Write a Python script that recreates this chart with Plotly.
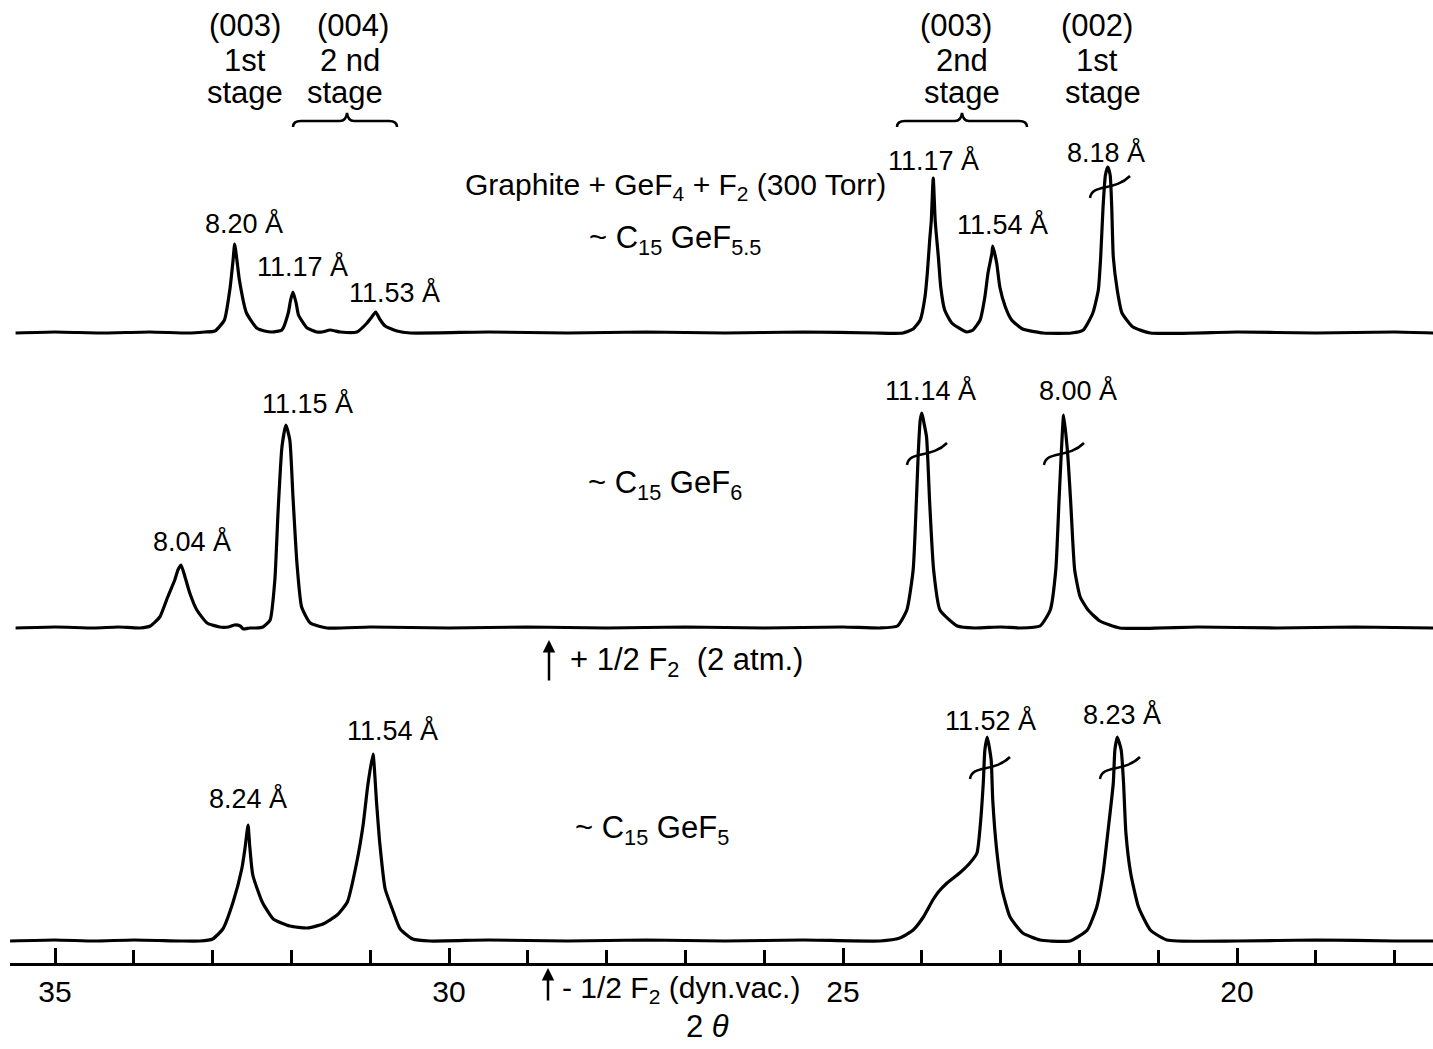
import plotly.graph_objects as go

# ---------------- data (2-theta in degrees, intensity in arbitrary units above each baseline) -------------
top_2theta = [35.50, 35.00, 34.40, 33.80, 33.30, 33.10, 32.97, 32.85, 32.78, 32.74, 32.72, 32.69, 32.66, 32.57,
              32.44, 32.34, 32.25, 32.12, 32.04, 32.01, 31.98, 31.94, 31.91, 31.80, 31.68, 31.61, 31.51, 31.38,
              31.17, 31.04, 30.98, 30.93, 30.88, 30.81, 30.66, 30.49, 29.50, 28.50, 27.50, 26.50, 25.50, 24.60,
              24.24, 24.11, 24.02, 23.96, 23.93, 23.90, 23.88, 23.855, 23.83, 23.79, 23.76, 23.71, 23.62, 23.43,
              23.35, 23.26, 23.20, 23.16, 23.11, 23.10, 23.05, 23.01, 22.94, 22.86, 22.72, 22.46, 22.10, 21.95,
              21.83, 21.76, 21.73, 21.70, 21.67, 21.64, 21.61, 21.59, 21.57, 21.52, 21.46, 21.32, 21.10, 20.00,
              19.00, 18.00, 17.51]
top_intensity = [0, 1, 0, 1, 0, 1, 2, 13, 44, 73, 89, 72, 53, 20,
                 5, 2, 1, 3, 20, 33, 41, 30, 18, 5, 1, 1, 3, 1,
                 1, 10, 16, 21, 14, 7, 2, 0, 1, 0, 1, 0, 1, 0,
                 0, 4, 13, 36, 60, 93, 112, 155, 112, 76, 46, 23, 10, 1,
                 3, 13, 36, 60, 80, 87, 70, 46, 26, 13, 4, 0, 0, 3,
                 20, 43, 76, 126, 158, 166, 158, 126, 76, 43, 20, 6, 0, 1,
                 0, 1, 0]

mid_2theta = [35.50, 35.00, 34.50, 34.20, 33.92, 33.79, 33.67, 33.57, 33.48, 33.44, 33.40, 33.35, 33.29, 33.20,
              33.07, 32.91, 32.80, 32.72, 32.65, 32.61, 32.53, 32.45, 32.36, 32.27, 32.21, 32.17, 32.12, 32.07,
              32.02, 31.98, 31.93, 31.87, 31.76, 31.55, 31.00, 30.00, 29.00, 28.00, 27.00, 26.00, 25.00, 24.53,
              24.31, 24.19, 24.11, 24.07, 24.045, 24.02, 24.00, 23.98, 23.94, 23.90, 23.85, 23.77, 23.55, 23.33,
              23.00, 22.75, 22.50, 22.37, 22.30, 22.26, 22.23, 22.20, 22.15, 22.11, 22.06, 21.99, 21.89, 21.74,
              21.49, 20.50, 19.50, 18.50, 17.51]
mid_intensity = [0, 1, 0, 1, 0, 2, 11, 31, 48, 58, 63, 51, 35, 18,
                 5, 1, 1, 3, 2, -1, 0, 0, 1, 8, 48, 115, 181, 203,
                 188, 131, 65, 21, 5, 0, 1, 0, 1, 0, 1, 0, 1, 0,
                 2, 18, 58, 125, 175, 208, 215, 208, 191, 125, 58, 18, 2, 0,
                 1, 0, 2, 18, 58, 125, 175, 213, 175, 125, 58, 31, 18, 7,
                 0, 1, 0, 1, 0]

bot_2theta = [35.57, 35.00, 34.50, 34.00, 33.41, 33.16, 33.00, 32.87, 32.74, 32.63, 32.59, 32.55, 32.53, 32.49,
              32.37, 32.23, 32.02, 31.80, 31.60, 31.42, 31.29, 31.17, 31.09, 31.03, 30.965, 30.92, 30.88, 30.81,
              30.72, 30.62, 30.46, 30.24, 29.50, 28.50, 27.50, 26.50, 25.50, 24.53, 24.28, 24.11, 23.98, 23.86,
              23.79, 23.68, 23.52, 23.39, 23.30, 23.26, 23.22, 23.20, 23.17, 23.12, 23.10, 23.05, 22.98, 22.88,
              22.72, 22.50, 22.37, 22.12, 21.90, 21.78, 21.70, 21.64, 21.57, 21.55, 21.52, 21.47, 21.44, 21.41,
              21.35, 21.25, 21.10, 20.89, 20.00, 19.00, 18.00, 17.51]
bot_intensity = [0, 1, 0, 1, 0, 0, 2, 12, 39, 72, 92, 116, 96, 66,
                 39, 22, 15, 13, 17, 26, 39, 79, 116, 156, 187, 139, 99, 52,
                 32, 12, 2, 0, 1, 0, 1, 0, 1, 0, 3, 11, 24, 41,
                 49, 58, 68, 78, 88, 114, 158, 191, 204, 181, 141, 91, 51, 24,
                 8, 1, 0, 0, 11, 34, 68, 108, 158, 191, 204, 191, 158, 108,
                 68, 34, 11, 1, 0, 1, 0, 0]

major_ticks = [35, 30, 25, 20]
major_labels = ["35", "30", "25", "20"]

peak_labels = ["8.20 Å", "11.17 Å", "11.53 Å", "11.17 Å", "11.54 Å", "8.18 Å",
               "11.15 Å", "8.04 Å", "11.14 Å", "8.00 Å",
               "8.24 Å", "11.54 Å", "11.52 Å", "8.23 Å"]

# ---------------- layout constants (positions / styles) ----------------
TOP_OFFSET, MID_OFFSET, BOT_OFFSET = 630, 335, 22
FONT = "Liberation Sans, Arial, sans-serif"
LW = 3.2
PLOT_H = 963  # pixel height of plotting area

fig = go.Figure()
for xs, ys, off in [(top_2theta, top_intensity, TOP_OFFSET),
                    (mid_2theta, mid_intensity, MID_OFFSET),
                    (bot_2theta, bot_intensity, BOT_OFFSET)]:
    fig.add_trace(go.Scatter(x=xs, y=[v + off for v in ys], mode="lines",
                             line=dict(color="black", width=LW, shape="spline", smoothing=0.5),
                             hoverinfo="skip", showlegend=False))

# invisible trace to activate overlay pixel axes for annotations
fig.add_trace(go.Scatter(x=[10], y=[0], xaxis="x2", yaxis="y2", mode="markers",
                         marker=dict(opacity=0), hoverinfo="skip", showlegend=False))

annotations = []

def txt(t, x, y, size=28, xanchor="center"):
    if y <= PLOT_H:
        yy, yref = y, "y2"
    else:
        yy, yref = (PLOT_H - y) / PLOT_H, "paper"
    annotations.append(dict(text=t, x=x, y=yy, xref="x2", yref=yref, showarrow=False,
                            xanchor=xanchor, yanchor="middle",
                            font=dict(family=FONT, size=size, color="black")))

# header labels
for t, x, y in [("(003)", 245, 25), ("1st", 245, 60), ("stage", 245, 92),
                ("(004)", 353, 25), ("2 nd", 350, 60), ("stage", 345, 92),
                ("(003)", 956, 25), ("2nd", 962, 60), ("stage", 962, 92),
                ("(002)", 1097, 25), ("1st", 1097, 60), ("stage", 1103, 92)]:
    txt(t, x, y, 31)

txt("Graphite + GeF<sub>4</sub> + F<sub>2</sub> (300 Torr)", 675, 186, 30)
txt("~ C<sub>15</sub> GeF<sub>5.5</sub>", 675, 240, 31)
txt("~ C<sub>15</sub> GeF<sub>6</sub>", 665, 485, 31)
txt("~ C<sub>15</sub> GeF<sub>5</sub>", 652, 830, 31)
txt("+ 1/2 F<sub>2</sub>  (2 atm.)", 568, 662, 31, "left")
txt("- 1/2 F<sub>2</sub> (dyn.vac.)", 560, 990, 30, "left")
txt("2 <i>θ</i>", 707, 1026, 31)

label_pos = [(244, 223), (302, 266), (394, 292), (933, 160), (1002, 224), (1106, 152),
             (307, 403), (192, 541), (930, 390), (1078, 390),
             (248, 798), (392, 730), (990, 720), (1122, 714)]
for t, (x, y) in zip(peak_labels, label_pos):
    txt(t, x, y, 27)

# arrows (head position, length in px)
for x, y, ln in [(549, 640, 42), (548, 968, 34)]:
    yy, yref = (y, "y2") if y <= PLOT_H else ((PLOT_H - y) / PLOT_H, "paper")
    annotations.append(dict(text="", x=x, y=yy, xref="x2", yref=yref, showarrow=True,
                            ax=0, ay=ln, arrowhead=2, arrowsize=1, arrowwidth=2.5,
                            arrowcolor="black"))

shapes = []
# braces
for x0, x1, xm in [(293, 397, 347), (897, 1027, 962)]:
    p = (f"M {x0},127 Q {x0},121 {x0+8},121 L {xm-7},121 Q {xm-1},121 {xm},113 "
         f"Q {xm+1},121 {xm+7},121 L {x1-8},121 Q {x1},121 {x1},127")
    shapes.append(dict(type="path", path=p, xref="x2", yref="y2",
                       line=dict(color="black", width=2.5)))
# break marks
for cx, cy in [(1110, 186), (927, 453), (1064, 453), (990, 767), (1120, 767)]:
    p = f"M {cx-20},{cy+12} C {cx-18},{cy-3} {cx+4},{cy+6} {cx+20},{cy-10}"
    shapes.append(dict(type="path", path=p, xref="x2", yref="y2",
                       line=dict(color="black", width=2.5)))

fig.update_layout(
    width=1433, height=1049,
    margin=dict(l=10, r=0, t=0, b=86),
    paper_bgcolor="white", plot_bgcolor="white",
    xaxis=dict(range=[35.571, 17.513], tickvals=major_ticks, ticktext=major_labels,
               ticks="inside", ticklen=15, tickwidth=2.5, tickcolor="black",
               minor=dict(ticks="inside", dtick=1, tick0=0, ticklen=13, tickwidth=2.5,
                          tickcolor="black", showgrid=False),
               showline=True, linewidth=3, linecolor="black", showgrid=False, zeroline=False,
               tickfont=dict(family=FONT, size=30, color="black")),
    yaxis=dict(range=[0, PLOT_H], visible=False, showgrid=False, zeroline=False),
    xaxis2=dict(range=[10, 1433], overlaying="x", anchor="y2", visible=False),
    yaxis2=dict(range=[PLOT_H, 0], overlaying="y", anchor="x2", visible=False),
    annotations=annotations,
    shapes=shapes,
    showlegend=False,
)

fig.write_html("out.html", config={"displayModeBar": False},
               post_script="document.body.style.margin='0';document.body.style.overflow='hidden';")
